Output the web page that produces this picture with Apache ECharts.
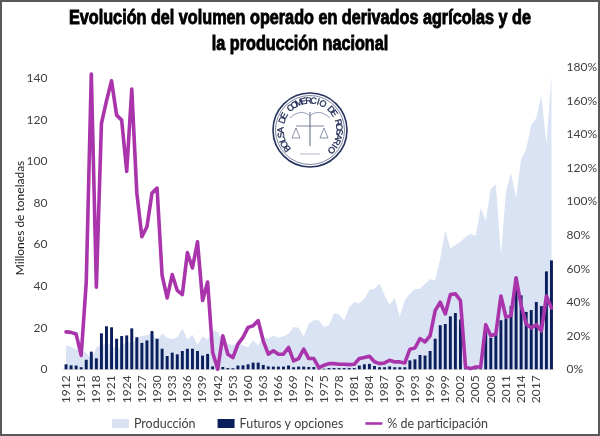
<!DOCTYPE html>
<html>
<head>
<meta charset="utf-8">
<script src="https://cdn.jsdelivr.net/npm/echarts@6/dist/echarts.min.js"></script>
<style>
html,body{margin:0;padding:0;background:#fff;}
#chart{width:600px;height:436px;}
</style>
</head>
<body>
<div id="chart"></div>
<script>
// ---- data ----
const years = [
  '1912','1913','1914','1915','1916','1917','1918','1919','1920','1921',
  '1922','1923','1924','1925','1926','1927','1928','1929','1930','1931',
  '1932','1933','1934','1935','1936','1937','1938','1939','1940','1941',
  '1942','1946','1950','1953','1955','1958','1960','1961','1962','1963',
  '1964','1965','1966','1967','1968','1969','1970','1971','1972','1973',
  '1974','1975','1976','1977','1978','1979','1980','1981','1982','1983',
  '1984','1985','1986','1987','1988','1989','1990','1991','1992','1993',
  '1994','1995','1996','1997','1998','1999','2000','2001','2002','2003',
  '2004','2005','2006','2007','2008','2009','2010','2011','2012','2013',
  '2014','2015','2016','2017','2018','2019','2020'
];
// Producción (millones de toneladas)
const produccion = [
  11.5,10.7,9.6,8.7,8.0,5.0,10.5,11.7,12.6,11.6,
  9.8,10.8,13.9,11.9,14.7,16.2,16.4,17.3,13.8,17.4,
  15.2,14.5,15.6,19.6,14.3,16.6,11.8,15.8,14.3,19.0,
  18.0,14.0,12.3,11.5,12.7,11.5,10.7,14.0,11.5,15.5,
  14.7,16.3,15.2,15.9,17.1,20.4,20.0,15.5,22.0,23.6,
  23.6,20.4,21.2,27.0,26.4,23.6,30.0,32.4,31.6,34.0,
  38.3,38.8,41.3,35.6,31.1,34.5,25.2,33.2,36.4,38.5,
  38.8,41.2,43.3,42.8,53.2,66.8,58.0,59.9,61.2,63.6,
  65.2,64.1,77.6,71.6,86.9,88.9,55.1,85.3,94.6,82.4,
  101.3,105.8,117.6,120.8,131.7,108.5,141.3
];
// Futuros y opciones (millones de toneladas)
const futuros = [
  2.4,1.9,1.8,1.0,4.6,8.5,5.3,17.3,20.7,20.2,
  14.7,16.0,16.3,19.7,15.4,12.7,13.9,18.4,14.7,9.9,
  6.4,8.0,7.2,8.8,9.9,9.9,8.8,6.6,7.4,1.4,
  0.2,1.1,0.6,0.5,1.8,1.9,2.4,3.2,3.2,2.1,
  1.4,1.3,1.3,1.3,1.8,1.0,1.3,1.3,1.1,1.1,
  0.5,0.3,0.6,0.6,0.6,0.6,0.6,0.6,1.8,2.4,
  2.6,1.6,1.0,1.0,1.4,1.0,1.0,1.0,4.3,4.8,
  6.9,6.6,8.8,14.7,21.2,21.8,25.5,27.1,24.0,0.5,
  0.3,0.5,0.5,19.0,15.1,17.0,23.6,24.4,30.4,44.2,
  35.6,27.6,28.5,32.4,30.4,47.1,52.4
];
// % de participación
const participacion = [
  22.3,22.0,21.0,8.3,52,176,49,146.5,160,172,
  151.5,148.5,118,167,105,79,85,105,108,56,
  42.5,56.5,47,44.5,69.6,60.4,76,41,52,10,
  0,20,9,7,15,19,25,26,29,17,
  9,11,9,9,13,5,6.4,12,6.4,6.4,
  1,2.4,3.4,3.4,3,3,2.8,3,6.4,7,
  7.8,4.5,3.4,3.8,5.4,4.4,4.4,3.8,12,12.7,
  18.3,16.3,20,35,40,33,44.5,45,41,1.4,
  0.4,1.4,1.4,26.6,20,21,43.7,31,32,54.5,
  38,27,24.7,26.6,22.9,43.7,36.6
];
const leftTicksMax = 140;
const rightTicks = [0,20,40,60,80,100,120,140,160,180];
const titleLine1 = 'Evolución del volumen operado en derivados agrícolas y de';
const titleLine2 = 'la producción nacional';
const yAxisTitle = 'Millones de toneladas';
const sealText = 'BOLSA DE COMERCIO DE ROSARIO';

// ---- layout helpers ----
const TF = 'bold 19.5px "Liberation Sans"';
const ctx = document.createElement('canvas').getContext('2d');
ctx.font = TF;
const w1 = ctx.measureText(titleLine1).width;
const sx = 462 / w1;

const seal = [];
const cx = 310, cy = 130;
seal.push({type:'circle', shape:{cx:cx, cy:cy, r:37}, style:{fill:'none', stroke:'#26335f', lineWidth:1.6}, silent:true});
seal.push({type:'circle', shape:{cx:cx, cy:cy, r:34.5}, style:{fill:'none', stroke:'#26335f', lineWidth:0.6}, silent:true});
const n = sealText.length;
const start = 219, span = 262;
for (let k = 0; k < n; k++) {
  const th = (start - k * span / (n - 1)) * Math.PI / 180;
  seal.push({
    type:'text', x: cx + 29 * Math.cos(th), y: cy - 29 * Math.sin(th),
    rotation: th - Math.PI / 2, silent:true,
    style:{text: sealText[k], font:'9px "Liberation Sans"', fill:'#1f2a55', stroke:'#1f2a55', lineWidth:0.3, align:'center', verticalAlign:'middle'}
  });
}
// emblem sketch
seal.push({type:'line', shape:{x1:cx, y1:cy-18, x2:cx, y2:cy+16}, style:{stroke:'#5a6688', lineWidth:1}, silent:true});
seal.push({type:'line', shape:{x1:cx-14, y1:cy-4, x2:cx+14, y2:cy-4}, style:{stroke:'#5a6688', lineWidth:0.8}, silent:true});
seal.push({type:'polygon', shape:{points:[[cx-18,cy+8],[cx-14,cy-2],[cx-10,cy+8]]}, style:{fill:'none', stroke:'#5a6688', lineWidth:0.7}, silent:true});
seal.push({type:'polygon', shape:{points:[[cx+10,cy+8],[cx+14,cy-2],[cx+18,cy+8]]}, style:{fill:'none', stroke:'#5a6688', lineWidth:0.7}, silent:true});
seal.push({type:'bezierCurve', shape:{x1:cx-20, y1:cy-12, x2:cx, y2:cy-14, cpx1:cx-12, cpy1:cy-20, cpx2:cx-4, cpy2:cy-18}, style:{fill:'none', stroke:'#7a86a6', lineWidth:0.8}, silent:true});
seal.push({type:'bezierCurve', shape:{x1:cx+20, y1:cy-12, x2:cx, y2:cy-14, cpx1:cx+12, cpy1:cy-20, cpx2:cx+4, cpy2:cy-18}, style:{fill:'none', stroke:'#7a86a6', lineWidth:0.8}, silent:true});
seal.push({type:'line', shape:{x1:cx-10, y1:cy+24, x2:cx+10, y2:cy+24}, style:{stroke:'#7a86a6', lineWidth:0.6}, silent:true});

const chart = echarts.init(document.getElementById('chart'), null, {renderer:'canvas'});
const labelFont = 'Lato';
chart.setOption({
  animation:false,
  backgroundColor:'#ffffff',
  graphic:[
    {type:'rect', shape:{x:1, y:1, width:598, height:434}, style:{fill:'none', stroke:'#595959', lineWidth:2}, silent:true, z:100},
    {type:'text', x:300, y:19, scaleX:sx, silent:true,
      style:{text:titleLine1, font:TF, fill:'#000', stroke:'#000', lineWidth:0.9, align:'center', verticalAlign:'middle'}},
    {type:'text', x:300, y:45, scaleX:sx, silent:true,
      style:{text:titleLine2, font:TF, fill:'#000', stroke:'#000', lineWidth:0.9, align:'center', verticalAlign:'middle'}},
    {type:'text', x:20, y:218, rotation:Math.PI/2, silent:true,
      style:{text:yAxisTitle, font:'12px Lato', fill:'#1a1a1a', align:'center', verticalAlign:'middle'}},
    {type:'group', children:seal, z:0}
  ],
  grid:{left:63.5, right:45.5, top:67.3, bottom:66.7, containLabel:false},
  legend:{
    top:412, left:'center',
    itemGap:22, itemWidth:17, itemHeight:9,
    textStyle:{fontFamily:labelFont, fontSize:12.5, color:'#404040'},
    data:[
      {name:'Producción', icon:'rect'},
      {name:'Futuros y opciones', icon:'rect'},
      {name:'% de participación', icon:'path://M0,0 L20,0 L20,3 L0,3 Z'}
    ]
  },
  xAxis:{
    type:'category', data:years, boundaryGap:true,
    axisLine:{show:true, lineStyle:{color:'#d9d9d9', width:1}},
    axisTick:{show:false},
    axisLabel:{interval:2, rotate:90, margin:6, showMaxLabel:false, fontFamily:labelFont, fontSize:12, color:'#404040'}
  },
  yAxis:[
    {type:'value', min:0, max:145.3, interval:20,
     axisLine:{show:false}, axisTick:{show:false}, splitLine:{show:false},
     axisLabel:{showMaxLabel:false, margin:16, fontFamily:labelFont, fontSize:12, color:'#404040',
       formatter:function(v){ return v <= leftTicksMax ? String(v) : ''; }}
    },
    {type:'value', min:rightTicks[0], max:rightTicks[rightTicks.length-1], interval:20, position:'right',
     axisLine:{show:false}, axisTick:{show:false}, splitLine:{show:false},
     axisLabel:{margin:12.5, fontFamily:labelFont, fontSize:12, color:'#404040', formatter:'{value}%'}
    }
  ],
  series:[
    {name:'Producción', type:'line', data:produccion, yAxisIndex:0, symbol:'none', showSymbol:false,
     lineStyle:{width:0, color:'#dae3f3'}, itemStyle:{color:'#dae3f3'},
     areaStyle:{color:'#dae3f3', opacity:1}, z:1},
    {name:'Futuros y opciones', type:'bar', data:futuros, yAxisIndex:0, barWidth:'58%',
     itemStyle:{color:'#0b1f5c'}, z:2},
    {name:'% de participación', type:'line', data:participacion, yAxisIndex:1, symbol:'none', showSymbol:false,
     lineStyle:{width:3.6, color:'#a934ab', cap:'round', join:'round'}, itemStyle:{color:'#a934ab'}, z:3}
  ]
});
</script>
</body>
</html>
